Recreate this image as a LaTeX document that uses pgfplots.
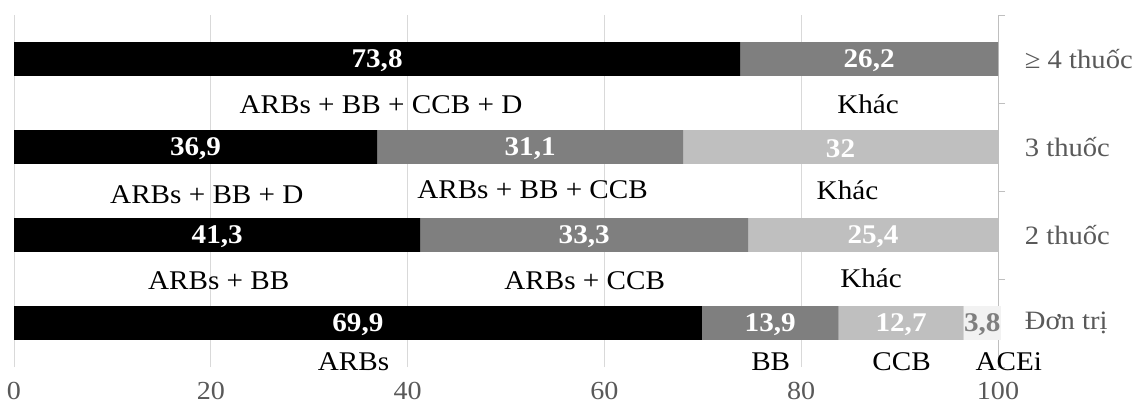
\documentclass[border=0pt]{standalone}
\usepackage{fontspec}
\setmainfont{Liberation Serif}[FakeStretch=1.08]
\usepackage{pgfplots}
\usepackage{pgfplotstable}
\pgfplotsset{compat=1.18}
\definecolor{segA}{HTML}{000000}
\definecolor{segB}{HTML}{7F7F7F}
\definecolor{segC}{HTML}{BFBFBF}
\definecolor{segD}{HTML}{F2F2F2}
\definecolor{gridc}{HTML}{D9D9D9}
\definecolor{axisc}{HTML}{BFBFBF}
\definecolor{labc}{HTML}{595959}
\tikzset{annot/.style={text=black, font=\fontsize{27}{31}\selectfont}}

\pgfplotstableread{
row v
0 69.9
1 41.3
2 36.9
3 73.8
}\tabA
\pgfplotstableread{
row v
0 13.9
1 33.3
2 31.1
3 26.2
}\tabB
\pgfplotstableread{
row v
0 12.7
1 25.4
2 32
}\tabC
\pgfplotstableread{
row v
0 3.8
}\tabD

\begin{document}
\fontsize{26}{30}\selectfont
\begin{tikzpicture}
\path[use as bounding box] (-14pt,-46pt) rectangle (1120pt,367pt);
\begin{axis}[
  at={(0pt,0pt)}, anchor=south west,
  scale only axis, width=984pt, height=352pt,
  xbar stacked, bar width=0.386,
  xmin=0, xmax=100, ymin=-0.5, ymax=3.5,
  clip=false,
  axis y line*=right, axis x line*=bottom,
  x axis line style={draw=none},
  y axis line style={draw=axisc, line width=0.8pt, -},
  xtick={0,20,...,100},
  xmajorgrids, grid style={draw=gridc, line width=0.8pt},
  xtick style={draw=none},
  ytick={0,1,2,3},
  yticklabels={Đơn trị, 2 thuốc, 3 thuốc, ≥ 4 thuốc},
  ytick style={draw=none},
  minor ytick={-0.5,0.5,1.5,2.5,3.5},
  minor y tick style={draw=axisc, line width=0.8pt},
  tick align=outside,
  minor tick length=7pt,
  major tick length=0pt,
  xticklabel style={font=\fontsize{26}{30}\selectfont, text=labc, yshift=-14pt, inner sep=1pt},
  yticklabel style={font=\fontsize{26.5}{30}\selectfont, text=labc, anchor=west, xshift=18pt},
  /pgf/number format/assume math mode=true,
  /pgf/number format/use comma,
  /pgf/number format/fixed,
  /pgf/number format/precision=1,
  nodes near coords,
  every node near coord/.append style={anchor=center, yshift=-2pt, font=\bfseries\fontsize{27}{31}\selectfont, text=white},
]
\addplot[fill=segA, draw=none] table[x=v, y=row]{\tabA};
\addplot[fill=segB, draw=none] table[x=v, y=row]{\tabB};
\addplot[fill=segC, draw=none] table[x=v, y=row]{\tabC};
\addplot[fill=segD, draw=none, every node near coord/.append style={text=segB}] table[x=v, y=row]{\tabD};

\node[annot] at (axis cs:37.3,2.48) {ARBs + BB + CCB + D};
\node[annot] at (axis cs:86.8,2.49) {Khác};
\node[annot] at (axis cs:19.6,1.46) {ARBs + BB + D};
\node[annot] at (axis cs:52.7,1.52) {ARBs + BB + CCB};
\node[annot] at (axis cs:84.7,1.51) {Khác};
\node[annot] at (axis cs:20.8,0.48) {ARBs + BB};
\node[annot] at (axis cs:58.0,0.48) {ARBs + CCB};
\node[annot] at (axis cs:87.1,0.51) {Khác};
\node[annot] at (axis cs:34.5,-0.44) {ARBs};
\node[annot] at (axis cs:76.9,-0.44) {BB};
\node[annot] at (axis cs:90.2,-0.44) {CCB};
\node[annot] at (axis cs:101.1,-0.44) {ACEi};
\end{axis}
\end{tikzpicture}
\end{document}
